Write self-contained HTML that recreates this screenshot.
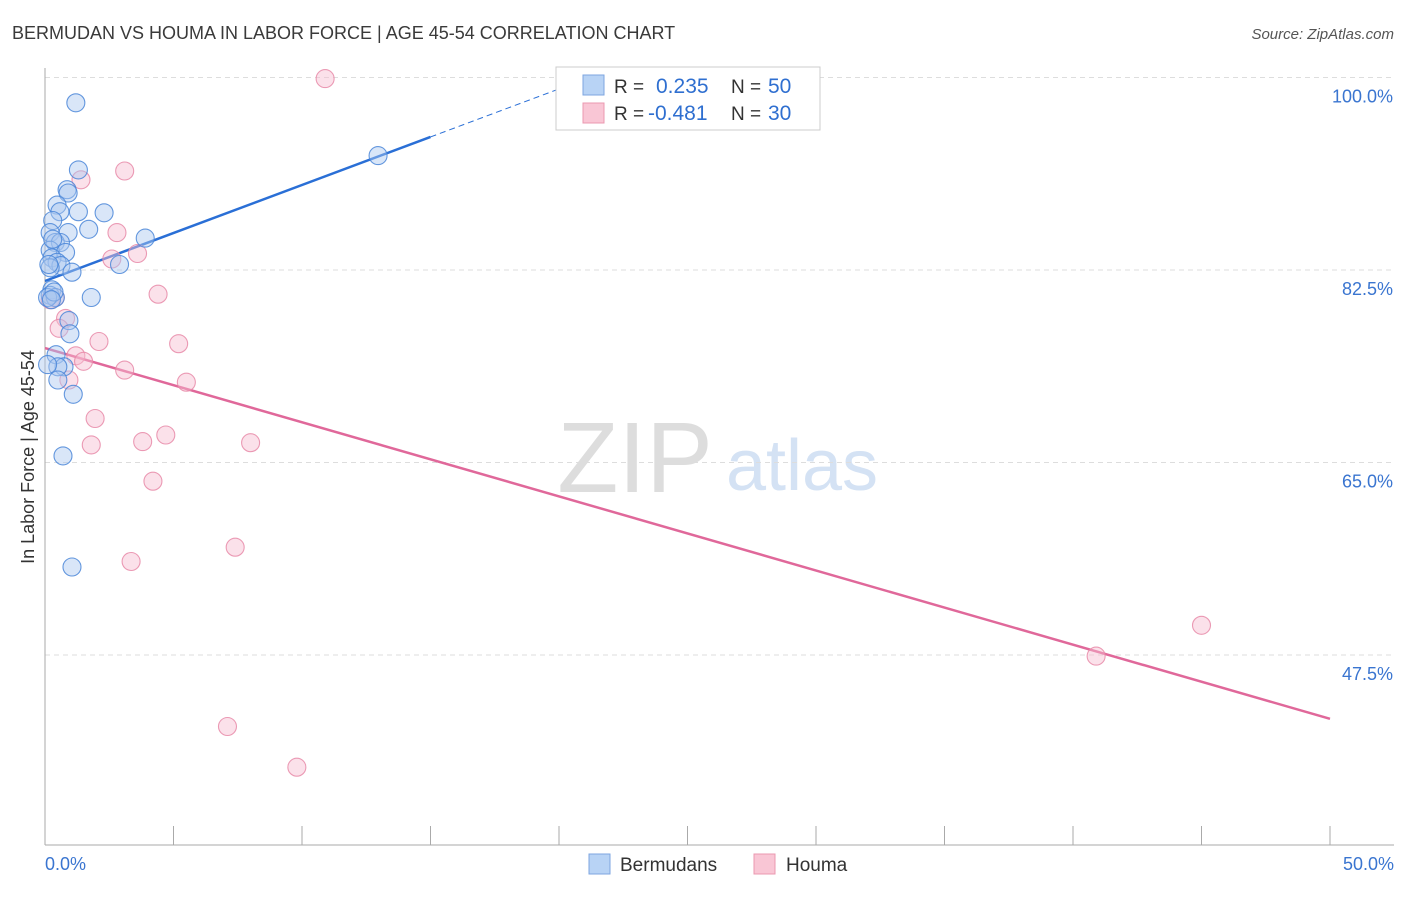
<!DOCTYPE html>
<html><head><meta charset="utf-8">
<style>
body{margin:0;background:#fff;font-family:"Liberation Sans",sans-serif;}
svg text{font-family:"Liberation Sans",sans-serif;}
</style></head>
<body>
<svg id="chart" width="1406" height="892" viewBox="0 0 1406 892" xmlns="http://www.w3.org/2000/svg">
<text x="12" y="39" font-size="18" fill="#3a3a3a">BERMUDAN VS HOUMA IN LABOR FORCE | AGE 45-54 CORRELATION CHART</text>
<text x="1394" y="39" font-size="15" fill="#555" font-style="italic" text-anchor="end">Source: ZipAtlas.com</text>
<text transform="translate(34,457) rotate(-90)" font-size="18" fill="#333" text-anchor="middle">In Labor Force | Age 45-54</text>
<g>
<text x="635" y="492" font-size="100" fill="#ddd" font-family="Liberation Serif, serif" text-anchor="middle">ZIP</text>
<text x="802" y="490" font-size="72" fill="#d4e2f4" text-anchor="middle">atlas</text>
</g>
<g id="grid"></g>
<g id="axes"></g>
<g id="trend"></g>
<g id="points"></g>
<g>
<rect x="556" y="67" width="264" height="63" fill="#fff" stroke="#ccc"/>
<rect x="583" y="75" width="21" height="20" fill="#b8d3f5" stroke="#7ea6e0"/>
<rect x="583" y="103" width="21" height="20" fill="#f9c6d5" stroke="#eb98b0"/>
<text x="614" y="93" font-size="19" fill="#333">R =</text>
<text x="656" y="93" font-size="21" fill="#2f6fd0">0.235</text>
<text x="731" y="93" font-size="19" fill="#333">N =</text>
<text x="768" y="93" font-size="21" fill="#2f6fd0">50</text>
<text x="614" y="120" font-size="19" fill="#333">R =</text>
<text x="648" y="120" font-size="21" fill="#2f6fd0">-0.481</text>
<text x="731" y="120" font-size="19" fill="#333">N =</text>
<text x="768" y="120" font-size="21" fill="#2f6fd0">30</text>
</g>
<g>
<rect x="589" y="854" width="21" height="20" fill="#b8d3f5" stroke="#7ea6e0"/>
<text x="620" y="871" font-size="19" fill="#333">Bermudans</text>
<rect x="754" y="854" width="21" height="20" fill="#f9c6d5" stroke="#eb98b0"/>
<text x="786" y="871" font-size="19" fill="#333">Houma</text>
</g>
</svg>
<script>
const yTicks=[100,82.5,65,47.5];
const yTickLabels=["100.0%","82.5%","65.0%","47.5%"];
const xTickLabels=["0.0%","50.0%"];
const blueX=[1.2,1.3,0.86,0.9,0.47,0.58,1.3,2.3,0.3,1.7,0.2,0.9,3.9,0.4,0.6,0.2,0.8,0.27,0.47,0.62,2.9,1.05,0.2,0.27,0.2,0.4,0.1,1.8,0.93,0.97,0.43,0.74,0.5,0.5,1.1,0.7,1.05,12.96,0.3,0.15,0.35,0.25,0.1];
const blueY=[97.7,91.6,89.8,89.5,88.4,87.8,87.8,87.7,87,86.2,85.9,85.9,85.4,85,85,84.3,84.1,83.6,83.2,82.9,83,82.3,82.7,80.7,80.2,80,80,80,77.9,76.7,74.8,73.7,73.7,72.5,71.2,65.6,55.5,92.9,85.3,83,80.5,79.8,73.9];
const pinkX=[10.9,3.1,1.4,2.8,3.6,2.6,4.4,0.8,0.55,2.1,5.2,1.2,1.5,3.1,0.93,5.5,1.95,4.7,3.8,1.8,8,4.2,7.4,3.35,45,40.9,7.1,9.8,0.2,0.4];
const pinkY=[99.9,91.5,90.7,85.9,84,83.5,80.3,78.1,77.2,76,75.8,74.7,74.2,73.4,72.5,72.3,69,67.5,66.9,66.6,66.8,63.3,57.3,56,50.2,47.4,41,37.3,79.8,80];
const blueFit=[81.5,0.873]; // intercept, slope
const pinkFit=[75.4,-0.674];
const X=v=>45+v*25.7, Y=v=>77.5+(100-v)*11;
const NS="http://www.w3.org/2000/svg";
function mk(tag,attrs,parent){const e=document.createElementNS(NS,tag);for(const k in attrs)e.setAttribute(k,attrs[k]);document.getElementById(parent).appendChild(e);return e;}
yTicks.forEach((t,i)=>{
 const g=mk('line',{x1:45,x2:1394,y1:Y(t),y2:Y(t),stroke:'#ddd','stroke-dasharray':'5,4'},'grid');
 
 
 const l=mk('text',{x:1393,y:Y(t)+25,'font-size':18,fill:'#3a75d0','text-anchor':'end'},'grid');
 l.textContent=yTickLabels[i];
 
 
});
const ya=mk('line',{x1:45,x2:45,y1:68,y2:845,stroke:'#aaa'},'axes');


const xa=mk('line',{x1:45,x2:1394,y1:845,y2:845,stroke:'#aaa'},'axes');


for(let i=0;i<=10;i++){
 const t=mk('line',{x1:X(i*5),x2:X(i*5),y1:826,y2:845,stroke:'#aaa'},'axes');
 
 
}
xTickLabels.forEach((s,i)=>{
 const t=mk('text',{x:i?1394:45,y:870,'font-size':18,fill:'#3a75d0','text-anchor':i?'end':'start'},'axes');
 t.textContent=s;
 
 
});
function pts(xs,ys,fill,stroke,name){
 xs.forEach((x,i)=>{
  const c=mk('circle',{cx:X(x),cy:Y(ys[i]),r:9,fill:fill,'fill-opacity':0.45,stroke:stroke,'stroke-width':1.1,'stroke-opacity':0.85},'points');
  
  
 });
}
pts(pinkX,pinkY,'#f7bdd0','#e78aa8','houma-point');
pts(blueX,blueY,'#aac8f0','#4a86d8','bermudan-point');
const fb=v=>blueFit[0]+blueFit[1]*v, fp=v=>pinkFit[0]+pinkFit[1]*v;
const b1=mk('line',{x1:X(0),y1:Y(fb(0)),x2:X(15),y2:Y(fb(15)),stroke:'#2a6fd6','stroke-width':2.5},'trend');


const b2=mk('line',{x1:X(15),y1:Y(fb(15)),x2:X(20),y2:Y(fb(20)),stroke:'#2a6fd6','stroke-width':1,'stroke-dasharray':'6,4'},'trend');


const p1=mk('line',{x1:X(0),y1:Y(fp(0)),x2:X(50),y2:Y(fp(50)),stroke:'#e0689a','stroke-width':2.5},'trend');


</script>
</body></html>
